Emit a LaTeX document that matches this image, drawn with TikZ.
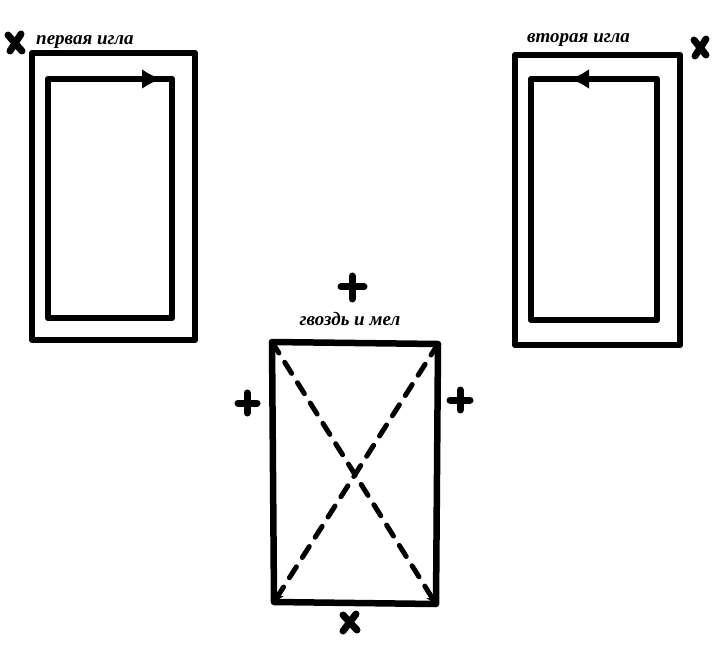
\documentclass[tikz,border=0pt]{standalone}
\usepackage{fontspec}
\setmainfont{Liberation Serif}
\usetikzlibrary{arrows.meta}
\begin{document}
\begin{tikzpicture}[x=1pt,y=-1pt,
  frame/.style={line width=6.5pt,line join=round,line cap=round},
  diag/.style={line width=5pt,dash pattern=on 13pt off 11pt,line cap=round,-{Stealth[length=10pt,width=10pt]}},
  lbl/.style={font=\itshape\bfseries\fontsize{19}{19}\selectfont,inner sep=0pt},
  sign/.style={line width=7pt,line cap=round},
  tip/.style={-{Latex[length=20pt,width=20pt]}}]
\useasboundingbox (0,0) rectangle (712,660);
% left window
\draw[frame] (32,53) rectangle (195,340);
\draw[frame] (48,79) -- (172,79) -- (172,318) -- (48,318) -- cycle;
\draw[frame,tip] (110,79) -- (162,79);
\node[lbl,anchor=base west] (l1) at (36,45) {первая игла};
\draw[sign] (8,35) -- (22,51) (21,34) -- (10,51);
% right window
\draw[frame] (515,55) rectangle (680,345);
\draw[frame] (531,79) -- (657,79) -- (657,320) -- (531,320) -- cycle;
\draw[frame,tip] (625,79) -- (569,79);
\node[lbl,anchor=base west] (l2) at (527,43) {вторая игла};
\draw[sign] (694,40) -- (706,55) (706,39) -- (695,56);
% middle
\coordinate (tl) at (272,342);
\coordinate (tr) at (438,344);
\coordinate (bl) at (274,602);
\coordinate (br) at (436,604);
\draw[diag] (tl) -- (br);
\draw[diag] (tr) -- (bl);
\draw[frame] (tl) -- (tr) -- (br) -- (bl) -- cycle;
\node[lbl,anchor=base] (l3) at (350,325) {гвоздь и мел};
\draw[sign] (352,276) -- (352,299) (341,287) -- (364,287);
\draw[sign] (247,393) -- (247,413) (238,403) -- (257,403);
\draw[sign] (460,390) -- (460,410) (450,400) -- (470,400);
\draw[sign] (343,615) -- (357,630) (356,614) -- (343,631);
\end{tikzpicture}
\end{document}
